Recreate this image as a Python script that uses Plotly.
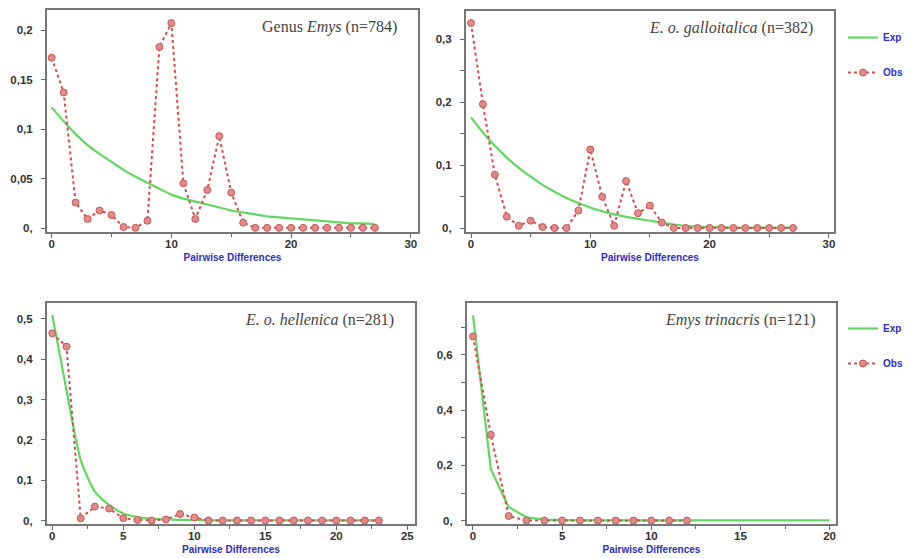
import plotly.graph_objects as go

# ---------------- data ----------------
x1 = list(range(28))
obs1 = [0.172, 0.137, 0.026, 0.0094, 0.018, 0.0134, 0.0013, 0.0005, 0.0077, 0.183, 0.207,
        0.0454, 0.0094, 0.0387, 0.093, 0.036, 0.0057, 0.0005, 0.0005, 0.0005, 0.0005, 0.0005,
        0.0005, 0.0005, 0.0005, 0.0005, 0.0005, 0.0005]
exp1 = [0.122, 0.108, 0.095, 0.084, 0.075, 0.067, 0.059, 0.052, 0.046, 0.040, 0.034,
        0.030, 0.027, 0.024, 0.021, 0.018, 0.016, 0.014, 0.012, 0.011, 0.010, 0.009,
        0.008, 0.007, 0.006, 0.005, 0.005, 0.004]

x2 = list(range(28))
obs2 = [0.326, 0.197, 0.085, 0.0185, 0.004, 0.012, 0.002, 0.0005, 0.0005, 0.028, 0.125,
        0.050, 0.004, 0.075, 0.024, 0.036, 0.009, 0.0005, 0.0005, 0.0005, 0.0005, 0.0005,
        0.0005, 0.0005, 0.0005, 0.0005, 0.0005, 0.0005]
exp2 = [0.176, 0.152, 0.131, 0.112, 0.096, 0.082, 0.069, 0.058, 0.048, 0.040, 0.033,
        0.027, 0.022, 0.018, 0.015, 0.012, 0.009, 0.006, 0.004, 0.003, 0.002, 0.002,
        0.001, 0.001, 0.001, 0.001, 0.001, 0.001]

x3 = list(range(24))
obs3 = [0.464, 0.431, 0.006, 0.035, 0.030, 0.006, 0.002, 0.0005, 0.003, 0.0165, 0.008,
        0.0005, 0.0005, 0.0005, 0.0005, 0.0005, 0.0005, 0.0005, 0.0005, 0.0005, 0.0005,
        0.0005, 0.0005, 0.0005]
exp3 = [0.509, 0.323, 0.150, 0.072, 0.039, 0.018, 0.009, 0.005, 0.003, 0.002, 0.002,
        0.001, 0.001, 0.001, 0.001, 0.001, 0.001, 0.001, 0.001, 0.001, 0.001, 0.001,
        0.001, 0.001]

x4obs = list(range(13))
obs4 = [0.667, 0.311, 0.017, 0.0005, 0.0005, 0.0005, 0.0005, 0.0005, 0.0005, 0.0005,
        0.0005, 0.0005, 0.0005]
x4exp = list(range(21))
exp4 = [0.743, 0.186, 0.050, 0.012, 0.004, 0.002, 0.001, 0.001, 0.001, 0.001, 0.001,
        0.001, 0.001, 0.001, 0.001, 0.001, 0.001, 0.001, 0.001, 0.001, 0.001]

titles = ["Genus <i>Emys</i> (n=784)", "<i>E. o. galloitalica</i> (n=382)",
          "<i>E. o. hellenica</i> (n=281)", "<i>Emys trinacris</i> (n=121)"]

ytick1 = [0, 0.05, 0.1, 0.15, 0.2]
ylab1 = ["0,", "0,05", "0,1", "0,15", "0,2"]
ytick2 = [0, 0.1, 0.2, 0.3]
ylab2 = ["0,", "0,1", "0,2", "0,3"]
ytick3 = [0, 0.1, 0.2, 0.3, 0.4, 0.5]
ylab3 = ["0,", "0,1", "0,2", "0,3", "0,4", "0,5"]
ytick4 = [0, 0.2, 0.4, 0.6]
ylab4 = ["0,", "0,2", "0,4", "0,6"]

# ---------------- layout geometry (pixels) ----------------
W, H = 913, 558
def fx(p): return p / W
def fy(p): return 1 - p / H

panels = [
    dict(dx=[fx(47), fx(418)], dy=[fy(232), fy(10)], xr=[-0.39, 30.6], yr=[-0.0037, 0.2202],
         xdt=10, yv=ytick1, yl=ylab1, ymin=None),
    dict(dx=[fx(466), fx(834)], dy=[fy(232), fy(11)], xr=[-0.42, 30.43], yr=[-0.0059, 0.345],
         xdt=10, yv=ytick2, yl=ylab2, ymin=0.05),
    dict(dx=[fx(47), fx(415)], dy=[fy(524), fy(303)], xr=[-0.373, 25.54], yr=[-0.0082, 0.539],
         xdt=5, yv=ytick3, yl=ylab3, ymin=None),
    dict(dx=[fx(467), fx(836)], dy=[fy(524), fy(303)], xr=[-0.336, 20.36], yr=[-0.012, 0.788],
         xdt=5, yv=ytick4, yl=ylab4, ymin=0.1),
]

GREEN = "#62d862"
RED = "#d05050"
BLUE = "#2e2ec8"

fig = go.Figure()

data = [(x1, exp1, x1, obs1), (x2, exp2, x2, obs2), (x3, exp3, x3, obs3), (x4exp, exp4, x4obs, obs4)]
legend_for = {1: "legend", 3: "legend2"}

for i, (xe, ye, xo, yo) in enumerate(data):
    ax = "" if i == 0 else str(i + 1)
    leg = legend_for.get(i, "legend")
    show = i in legend_for
    fig.add_trace(go.Scatter(x=xe, y=ye, mode="lines", name="Exp",
                             line=dict(color=GREEN, width=2.2, shape="spline" if i < 3 else "linear", smoothing=0.6),
                             xaxis="x" + ax, yaxis="y" + ax, showlegend=show, legend=leg,
                             legendgroup="exp" + str(i)))
    fig.add_trace(go.Scatter(x=xo, y=yo, mode="lines+markers", name="Obs",
                             line=dict(color=RED, width=2, dash="dot"),
                             marker=dict(color="#e08a8a", size=7, line=dict(color="#c45a5a", width=1)),
                             xaxis="x" + ax, yaxis="y" + ax, showlegend=show, legend=leg,
                             legendgroup="obs" + str(i)))

layout = dict(width=W, height=H, margin=dict(l=0, r=0, t=0, b=0, autoexpand=False),
              paper_bgcolor="white", plot_bgcolor="white",
              font=dict(family="Liberation Sans, Arial", color="#444"))

tickfont = dict(family="Liberation Sans, Arial", size=11.5, color="#333", weight="bold")
for i, p in enumerate(panels):
    ax = "" if i == 0 else str(i + 1)
    xa = dict(domain=p["dx"], range=p["xr"], anchor="y" + ax, tick0=0, dtick=p["xdt"],
              automargin=False,
              showgrid=False, zeroline=False, showline=True, mirror=True, linecolor="#777",
              linewidth=2, ticks="outside", ticklen=4, tickcolor="#666", tickwidth=1,
              tickfont=tickfont, ticklabelstandoff=-4,
              minor=dict(dtick=p["xdt"] / 2, tick0=0, ticks="outside", ticklen=3, tickcolor="#666", showgrid=False),
              title=dict(text="Pairwise Differences", standoff=5,
                         font=dict(family="Liberation Sans, Arial", size=10, color=BLUE, weight="bold")))
    ya = dict(domain=p["dy"], range=p["yr"], anchor="x" + ax, tickmode="array", automargin=False,
              tickvals=p["yv"], ticktext=p["yl"], showgrid=False, zeroline=False,
              showline=True, mirror=True, linecolor="#777", linewidth=2,
              ticks="outside", ticklen=4, tickcolor="#666", tickwidth=1, tickfont=tickfont,
              ticklabelstandoff=6)
    if p["ymin"]:
        ya["minor"] = dict(tickmode="linear", tick0=p["ymin"], dtick=p["ymin"] * 2, ticks="outside",
                           ticklen=4, tickcolor="#666", showgrid=False)
    layout["xaxis" + ax] = xa
    layout["yaxis" + ax] = ya

legfont = dict(family="Liberation Sans, Arial", size=10, color=BLUE, weight="bold")
layout["legend"] = dict(x=fx(843), y=fy(23), xanchor="left", yanchor="top", font=legfont,
                        bgcolor="rgba(0,0,0,0)", tracegroupgap=16, itemwidth=30)
layout["legend2"] = dict(x=fx(843), y=fy(314), xanchor="left", yanchor="top", font=legfont,
                         bgcolor="rgba(0,0,0,0)", tracegroupgap=16, itemwidth=30)

annots = []
for i, t in enumerate(titles):
    ax = "" if i == 0 else str(i + 1)
    annots.append(dict(text=t, xref="x" + ax + " domain", yref="y" + ax + " domain", x=1, y=1,
                       xanchor="right", yanchor="top", xshift=-19, yshift=-6, showarrow=False,
                       font=dict(family="Liberation Serif, Times New Roman", size=16, color="#444")))
layout["annotations"] = annots

fig.update_layout(**layout)
fig.write_html("out.html", config={"displayModeBar": False},
               post_script="document.body.style.margin='0';document.body.style.overflow='hidden';")
